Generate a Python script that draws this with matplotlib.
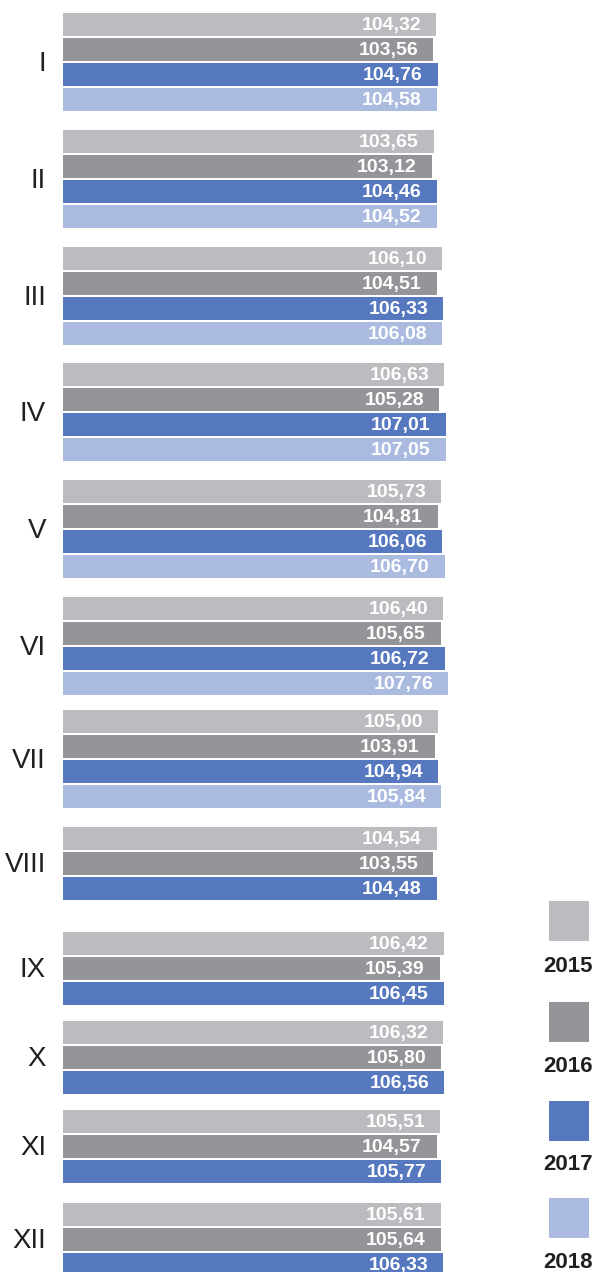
import matplotlib.pyplot as plt
from matplotlib.patches import Rectangle

months = ['I', 'II', 'III', 'IV', 'V', 'VI', 'VII', 'VIII', 'IX', 'X', 'XI', 'XII']
years = ['2015', '2016', '2017', '2018']
v2015 = [104.32, 103.65, 106.10, 106.63, 105.73, 106.40, 105.00, 104.54, 106.42, 106.32, 105.51, 105.61]
v2016 = [103.56, 103.12, 104.51, 105.28, 104.81, 105.65, 103.91, 103.55, 105.39, 105.80, 104.57, 105.64]
v2017 = [104.76, 104.46, 106.33, 107.01, 106.06, 106.72, 104.94, 104.48, 106.45, 106.56, 105.77, 106.33]
v2018 = [104.58, 104.52, 106.08, 107.05, 106.70, 107.76, 105.84, None, None, None, None, None]
colors = ['#BBBCBF', '#939598', '#5678BF', '#ABBBE0']

# layout (pixel units, y from top)
W, H = 596, 1272
x0 = 63          # left edge of bars
scale = 3.576    # px per unit
group_top = [13, 130, 247, 363, 480, 597, 710, 827, 932, 1021, 1110, 1203]
pitch = 25
bar_h = 22.7
pad = 15 / scale

plt.rcParams['font.family'] = ['Liberation Sans', 'DejaVu Sans']
fig = plt.figure(figsize=(W / 100, H / 100), dpi=100)
ax = fig.add_axes([0, 0, 1, 1])
ax.set_xlim(-x0 / scale, (W - x0) / scale)
ax.set_ylim(H, 0)
ax.axis('off')

series = [v2015, v2016, v2017, v2018]
for m, top in enumerate(group_top):
    n = 0
    for s, vals in enumerate(series):
        v = vals[m]
        if v is None:
            continue
        yc = top + s * pitch + bar_h / 2
        ax.barh(yc, v, height=bar_h, left=0, color=colors[s], linewidth=0)
        ax.text(v - pad, yc + 1.5, f'{v:.2f}'.replace('.', ','), ha='right', va='center',
                color='white', fontsize=14, fontweight='bold')
        n += 1
    yc_group = top + ((n - 1) * pitch + bar_h) / 2
    ax.text(46 / scale - x0 / scale, yc_group + 2, months[m], ha='right', va='center',
            color='#231F20', fontsize=20)

# legend
leg_tops = [901, 1002, 1101, 1198]
leg_lab = [965, 1066, 1164, 1261]
for i, y in enumerate(years):
    fig.patches.append(Rectangle((549 / W, 1 - (leg_tops[i] + 40) / H), 40 / W, 40 / H,
                                 transform=fig.transFigure, color=colors[i], linewidth=0))
    fig.text(568 / W, 1 - (leg_lab[i] + 1) / H, y, ha='center', va='center',
             color='#231F20', fontsize=16, fontweight='bold')

fig.savefig('out.png', dpi=100)
